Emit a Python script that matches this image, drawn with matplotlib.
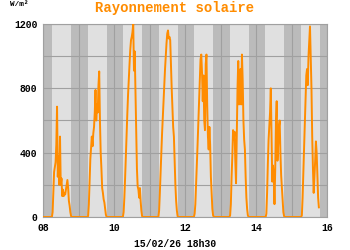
import numpy as np
import matplotlib
matplotlib.use("Agg")
import matplotlib.pyplot as plt

# solar radiation in W/m2, one value every half hour from 06h00, per day of February
first_day = 8
step_h = 0.5
start_h = 6.0
day_08 = [0, 30, 150, 280, 310, 340, 450, 686, 250, 380, 200, 500, 200, 240,
          130, 170, 130, 150, 140, 170, 200, 230, 180, 100, 70, 30, 5, 0]
day_09 = [0, 5, 80, 220, 360, 430, 500, 440, 520, 560, 650, 790, 600, 700,
          650, 820, 905, 600, 400, 300, 180, 150, 110, 90, 50, 15, 0, 0]
day_10 = [0, 30, 120, 240, 380, 520, 640, 760, 860, 950, 1040, 1100, 1120, 1150,
          1200, 910, 1030, 780, 520, 300, 190, 170, 120, 180, 100, 40, 5, 0]
day_11 = [0, 40, 150, 280, 400, 520, 620, 720, 820, 920, 1000, 1080, 1140, 1160,
          1110, 1120, 1100, 950, 800, 680, 560, 500, 350, 200, 100, 40, 5, 0]
day_12 = [0, 20, 80, 200, 330, 450, 580, 700, 830, 980, 1010, 900, 720, 880,
          600, 540, 950, 1010, 700, 500, 420, 560, 450, 250, 150, 50, 10, 0]
day_13 = [0, 10, 80, 250, 380, 540, 480, 530, 350, 210, 500, 800, 970, 700,
          850, 920, 700, 1010, 850, 600, 480, 420, 250, 120, 50, 10, 0, 0]
day_14 = [0, 0, 20, 150, 330, 480, 560, 650, 800, 500, 220, 320, 250, 80,
          300, 600, 720, 350, 450, 560, 600, 400, 260, 180, 100, 30, 5, 0]
day_15 = [0, 0, 10, 120, 280, 430, 580, 730, 880, 920, 820, 1000, 1100, 1185,
          980, 800, 500, 300, 150, 250, 350, 470, 400, 250, 120, 60]
days = [day_08, day_09, day_10, day_11, day_12, day_13, day_14, day_15]

# light part of the day (fraction of day), the rest is shaded
sunrise = 0.26
sunset = 0.80

x_ticks = [8, 10, 12, 14, 16]
x_labels = ["08", "10", "12", "14", "16"]
y_ticks = [0, 400, 800, 1200]
stamp = "15/02/26 18h30"

orange = "#ff8c00"
mono = ["Liberation Mono", "DejaVu Sans Mono"]

t = [first_day]
v = [0]
for i, vals in enumerate(days):
    for j, val in enumerate(vals):
        t.append(first_day + i + (start_h + j * step_h) / 24)
        v.append(val)

fig = plt.figure(figsize=(3.5, 2.5), dpi=100)
ax = fig.add_axes([43 / 350, 33 / 250, 284 / 350, 193 / 250])
ax.set_facecolor("#e0e0e0")

for d in range(first_day - 1, 17):
    ax.axvspan(d + sunset, d + 1 + sunrise, color="#bbbbbb", lw=0, zorder=0)

ax.set_xlim(8, 16)
ax.set_ylim(0, 1200)
ax.set_xticks(x_ticks)
ax.set_xticklabels(x_labels)
ax.set_xticks(np.arange(8, 17, 1), minor=True)
ax.set_yticks(y_ticks)
ax.set_yticks(np.arange(0, 1201, 200), minor=True)
ax.grid(which="both", color="#a0a0a0", lw=0.8, zorder=1)
ax.set_axisbelow(True)
ax.tick_params(which="both", length=0, pad=4)
for lab in ax.get_xticklabels() + ax.get_yticklabels():
    lab.set_fontfamily(mono)
    lab.set_fontweight("bold")
    lab.set_fontsize(7)
for s in ax.spines.values():
    s.set_color("#a0a0a0")
    s.set_linewidth(0.8)

ax.plot(t, v, color=orange, lw=1.4, zorder=3)

fig.text(0.5, 1 - 8 / 250, "Rayonnement solaire", color=orange, ha="center",
         va="center", fontsize=10, fontweight="bold", family=mono)
fig.text(10 / 350, 1 - 5 / 250, "W/m²", ha="left", va="center",
         fontsize=5.5, fontweight="bold", family=mono)
fig.text(0.5, 1 - 244 / 250, stamp, ha="center", va="center",
         fontsize=7, fontweight="bold", family=mono)

fig.savefig("out.png", dpi=100)
